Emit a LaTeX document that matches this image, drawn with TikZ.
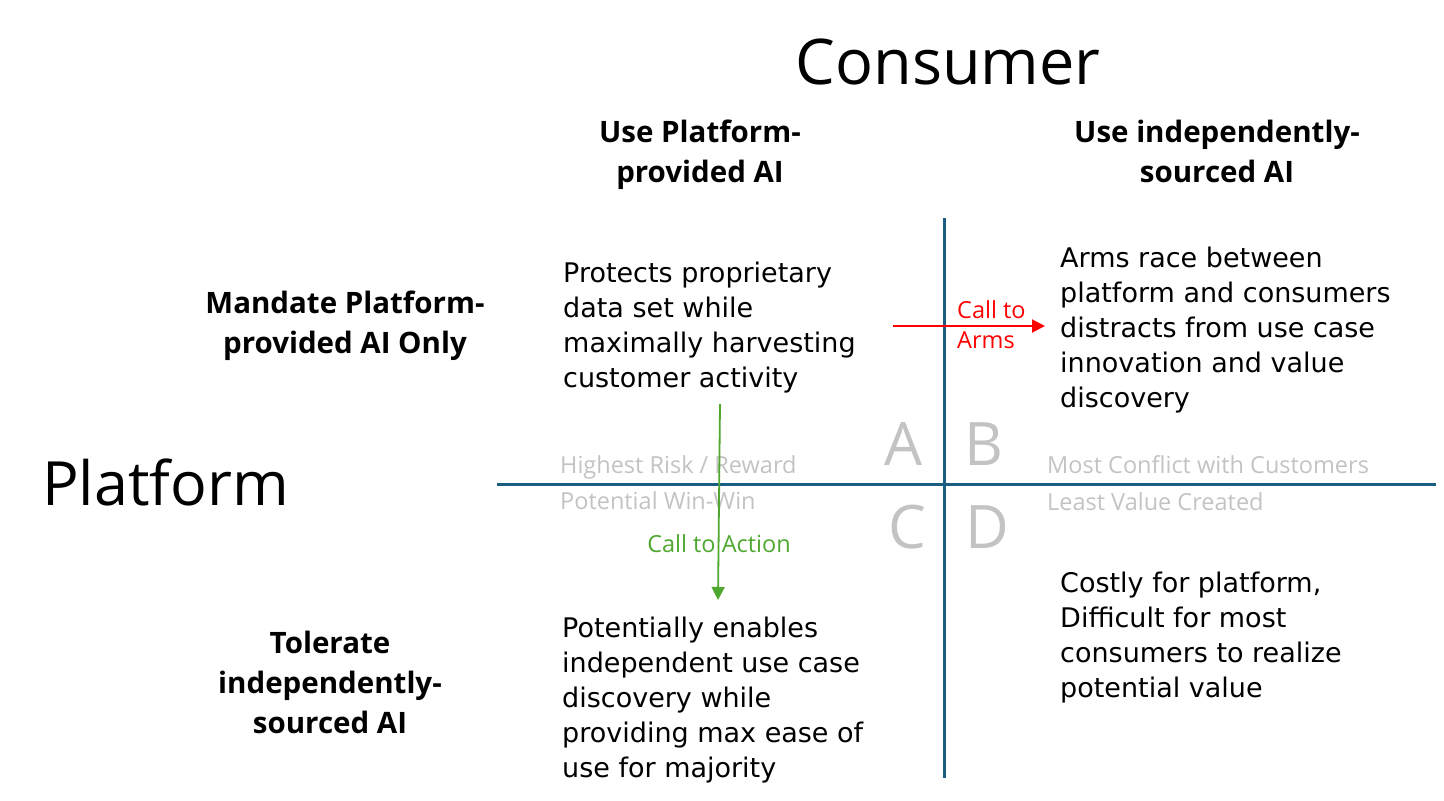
\documentclass[tikz,border=0pt]{standalone}
\usepackage{fontspec}
\setmainfont{Open Sans}
\newfontfamily\handfont{DejaVu Sans}
\usetikzlibrary{arrows.meta}
\definecolor{axisblue}{HTML}{1B5C82}
\definecolor{lblgray}{HTML}{C3C3C3}
\definecolor{actgreen}{HTML}{4EA72E}
\definecolor{armsred}{HTML}{FF0000}

\begin{document}
\begin{tikzpicture}[x=1pt, y=-1pt,
  bigtitle/.style={font=\fontsize{63}{70}\selectfont, inner sep=0pt},
  headtxt/.style={font=\bfseries\fontsize{29.5}{40}\selectfont, align=center, inner sep=0pt, anchor=base},
  bodytxt/.style={font=\handfont\fontsize{27}{35}\selectfont, align=left, inner sep=0pt, anchor=base west},
  graytxt/.style={font=\fontsize{23.5}{30}\selectfont, text=lblgray, inner sep=0pt, anchor=base west},
  quadltr/.style={font=\fontsize{60}{70}\selectfont, text=lblgray, inner sep=0pt, anchor=base},
  callarrow/.style={line width=2pt, -{Triangle[length=13pt, width=13pt]}}]
\useasboundingbox (0,0) rectangle (1444,801);

% titles
\node[bigtitle, anchor=base] (consumer) at (948,84) {Consumer};
\node[bigtitle, anchor=base west, font=\fontsize{61}{70}\selectfont] (platform) at (42,505) {Platform};

% column and row headers (base = last line)
\node[headtxt] (colA) at (700,182) {Use Platform-\\provided AI};
\node[headtxt] (colB) at (1217,182) {Use independently-\\sourced AI};
\node[headtxt] (rowA) at (345,353) {Mandate Platform-\\provided AI Only};
\node[headtxt] (rowC) at (330,733) {Tolerate\\independently-\\sourced AI};

% axes
\draw[axisblue, line width=3pt] (944,218) -- (944,778);
\draw[axisblue, line width=3pt] (497,484) -- (1436,484);

% quadrant letters and notes
\node[quadltr] (ltrA) at (903,465) {A};
\node[quadltr] (ltrB) at (984,465) {B};
\node[quadltr] (ltrC) at (907,548) {C};
\node[quadltr] (ltrD) at (987,548) {D};
\node[graytxt] (noteA) at (560,473) {Highest Risk / Reward};
\node[graytxt] (noteC) at (560,509) {Potential Win-Win};
\node[graytxt] (noteB) at (1047,473) {Most Conflict with Customers};
\node[graytxt] (noteD) at (1047,510) {Least Value Created};

% quadrant texts
\node[bodytxt] (txtA) at (563,387) {Protects proprietary\\data set while\\maximally harvesting\\customer activity};
\node[bodytxt] (txtB) at (1060,407) {Arms race between\\platform and consumers\\distracts from use case\\innovation and value\\discovery};
\node[bodytxt] (txtC) at (562,777) {Potentially enables\\independent use case\\discovery while\\providing max ease of\\use for majority};
\node[bodytxt] (txtD) at (1060,697) {Costly for platform,\\Difficult for most\\consumers to realize\\potential value};

% calls
\coordinate (armsL) at (893,326);
\coordinate (armsR) at (1045,326);
\draw[callarrow, armsred] (armsL) -- (armsR);
\node[graytxt, text=armsred, align=left] (armsLbl) at (957,348) {Call to\\Arms};

\coordinate (actTop) at (720,404);
\coordinate (actBot) at (718,600);
\draw[callarrow, actgreen, line width=1.8pt] (actTop) -- (actBot);
\node[graytxt, text=actgreen, anchor=base] (actLbl) at (719,552) {Call to Action};
\end{tikzpicture}
\end{document}
